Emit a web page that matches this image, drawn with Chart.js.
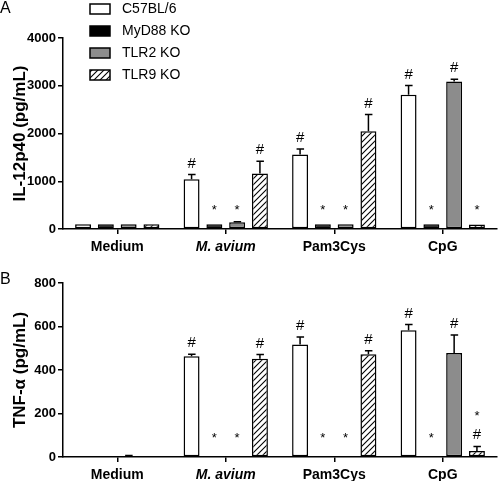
<!DOCTYPE html>
<html><head><meta charset="utf-8">
<script src="https://cdn.jsdelivr.net/npm/chart.js@4.4.1/dist/chart.umd.min.js"></script>
<style>
html,body{margin:0;padding:0;background:#fff;}
#wrap{position:relative;width:500px;height:481px;}
canvas{position:absolute;left:0;}
#cA{top:0;} #cB{top:256px;}
</style></head>
<body><div id="wrap"><canvas id="cA" width="500" height="256"></canvas><canvas id="cB" width="500" height="225"></canvas></div>
<script>
const categories = ['Medium', 'M. avium', 'Pam3Cys', 'CpG'];
const seriesNames = ['C57BL/6', 'MyD88 KO', 'TLR2 KO', 'TLR9 KO'];

// Panel A: IL-12p40 (pg/mL)
const il12_C57 = [100, 1040, 1560, 2810];
const il12_MyD88 = [100, 100, 100, 100];
const il12_TLR2 = [100, 140, 100, 3090];
const il12_TLR9 = [100, 1160, 2045, 95];
const il12err_C57 = [0, 100, 115, 195];
const il12err_MyD88 = [0, 0, 0, 0];
const il12err_TLR2 = [0, 10, 0, 45];
const il12err_TLR9 = [0, 260, 355, 0];
const il12mark_C57 = ['', '#', '#', '#'];
const il12mark_MyD88 = ['', '*', '*', '*'];
const il12mark_TLR2 = ['', '*', '*', '#'];
const il12mark_TLR9 = ['', '#', '#', '*'];
const il12Ticks = [0, 1000, 2000, 3000, 4000];

// Panel B: TNF-alpha (pg/mL)
const tnf_C57 = [0, 463, 517, 583];
const tnf_MyD88 = [0, 0, 0, 2];
const tnf_TLR2 = [5, 0, 0, 478];
const tnf_TLR9 = [0, 452, 472, 28];
const tnferr_C57 = [0, 9, 35, 26];
const tnferr_MyD88 = [0, 0, 0, 0];
const tnferr_TLR2 = [2, 0, 0, 83];
const tnferr_TLR9 = [0, 19, 17, 20];
const tnfmark_C57 = ['', '#', '#', '#'];
const tnfmark_MyD88 = ['', '*', '*', '*'];
const tnfmark_TLR2 = ['', '*', '*', '#'];
const tnfmark_TLR9 = ['', '#', '#', '*\n#'];
const tnfTicks = [0, 200, 400, 600, 800];

const FONT = "'Liberation Sans', Arial, sans-serif";

function hatch() {
  const c = document.createElement('canvas');
  c.width = 6; c.height = 6;
  const g = c.getContext('2d');
  g.fillStyle = '#fff'; g.fillRect(0, 0, 6, 6);
  g.strokeStyle = '#000'; g.lineWidth = 1.1;
  g.beginPath();
  g.moveTo(0, 6); g.lineTo(6, 0);
  g.moveTo(-3, 3); g.lineTo(3, -3);
  g.moveTo(3, 9); g.lineTo(9, 3);
  g.stroke();
  return g.createPattern(c, 'repeat');
}
const fills = ['#ffffff', '#000000', '#8c8c8c', null];

function makeDatasets(vals, errs, marks) {
  return vals.map((v, i) => ({
    label: seriesNames[i],
    data: v,
    errs: errs[i],
    marks: marks[i],
    backgroundColor: fills[i] || hatch(),
    borderColor: '#000',
    borderWidth: 1.5,
    borderSkipped: false,
    barPercentage: 0.7,
    categoryPercentage: 0.84
  }));
}

const errPlugin = {
  id: 'errs',
  afterDatasetsDraw(chart) {
    const ctx = chart.ctx, y = chart.scales.y;
    const zeroY = y.getPixelForValue(0);
    chart.data.datasets.forEach((ds, di) => {
      const meta = chart.getDatasetMeta(di);
      meta.data.forEach((bar, i) => {
        const e = ds.errs[i];
        const top = y.getPixelForValue(ds.data[i] + e);
        ctx.save();
        ctx.strokeStyle = '#000'; ctx.lineWidth = 1.5;
        if (e > 0) {
          ctx.beginPath();
          ctx.moveTo(bar.x, bar.y); ctx.lineTo(bar.x, top);
          ctx.moveTo(bar.x - 3.5, top); ctx.lineTo(bar.x + 4, top);
          ctx.stroke();
        }
        const m = ds.marks[i];
        if (m) {
          const lines = m.split('\n');
          let cy = Math.min(top - 11, zeroY - 22);
          ctx.fillStyle = '#000';
          ctx.textAlign = 'center';
          ctx.textBaseline = 'middle';
          for (let k = lines.length - 1; k >= 0; k--) {
            const s = lines[k];
            if (s === '*') { ctx.font = '13px ' + FONT; ctx.fillText(s, bar.x, cy + 3); }
            else { ctx.font = '15px ' + FONT; ctx.fillText(s, bar.x, cy); }
            cy -= 22;
          }
        }
        ctx.restore();
      });
    });
  }
};

function makeChart(id, datasets, ticks, title, opts) {
  const yMax = ticks[ticks.length - 1];
  return new Chart(document.getElementById(id), {
    type: 'bar',
    data: { labels: categories, datasets },
    options: {
      responsive: false, animation: false, devicePixelRatio: 1,
      layout: { padding: { top: opts.top, left: 0, right: 3, bottom: 0 } },
      plugins: { legend: { display: false }, tooltip: { enabled: false } },
      scales: {
        x: {
          afterFit: s => { s.height = opts.xh; },
          grid: { display: true, offset: false, drawOnChartArea: false, drawTicks: true, tickLength: 5, color: '#000', lineWidth: 1.5 },
          border: { display: true, color: '#000', width: 1.5 },
          ticks: {
            color: '#000', padding: 5,
            font: ctx => ({ family: FONT, size: 14, weight: 'bold', style: ctx.index === 1 ? 'italic' : 'normal' })
          }
        },
        y: {
          min: 0, max: yMax,
          afterFit: s => { s.width = 63; },
          afterBuildTicks: s => { s.ticks = ticks.map(v => ({ value: v })); },
          grid: { display: true, drawOnChartArea: false, drawTicks: true, tickLength: 5, color: '#000', lineWidth: 1.5 },
          border: { display: true, color: '#000', width: 1.5 },
          ticks: { color: '#000', padding: 2, font: { family: FONT, size: 13, weight: 'bold' }, callback: v => String(v) },
          title: { display: true, text: title, color: '#000', padding: { top: 10, bottom: 0 }, font: { family: FONT, size: 17, weight: 'bold' } }
        }
      }
    },
    plugins: [errPlugin, {
      id: 'extra',
      afterDraw(chart) {
        const ctx = chart.ctx;
        ctx.save();
        ctx.fillStyle = '#000';
        ctx.font = '16px ' + FONT;
        ctx.textBaseline = 'alphabetic';
        ctx.textAlign = 'left';
        ctx.fillText(opts.panel, 0, opts.panelY);
        if (opts.legend) {
          chart.data.datasets.forEach((ds, i) => {
            const cy = 9 + i * 22;
            ctx.fillStyle = ds.backgroundColor;
            ctx.fillRect(90, cy - 5, 20, 10);
            ctx.strokeStyle = '#000'; ctx.lineWidth = 1.5;
            ctx.strokeRect(90, cy - 5, 20, 10);
            ctx.fillStyle = '#000';
            ctx.font = '14px ' + FONT;
            ctx.textBaseline = 'middle';
            ctx.fillText(ds.label, 122, cy + 0.5);
          });
        }
        ctx.restore();
      }
    }]
  });
}

makeChart('cA',
  makeDatasets([il12_C57, il12_MyD88, il12_TLR2, il12_TLR9],
               [il12err_C57, il12err_MyD88, il12err_TLR2, il12err_TLR9],
               [il12mark_C57, il12mark_MyD88, il12mark_TLR2, il12mark_TLR9]),
  il12Ticks, 'IL-12p40 (pg/mL)', { top: 38, xh: 27, panel: 'A', panelY: 13, legend: true });

makeChart('cB',
  makeDatasets([tnf_C57, tnf_MyD88, tnf_TLR2, tnf_TLR9],
               [tnferr_C57, tnferr_MyD88, tnferr_TLR2, tnferr_TLR9],
               [tnfmark_C57, tnfmark_MyD88, tnfmark_TLR2, tnfmark_TLR9]),
  tnfTicks, 'TNF-\u03b1 (pg/mL)', { top: 27, xh: 24, panel: 'B', panelY: 28, legend: false });
</script></body></html>
